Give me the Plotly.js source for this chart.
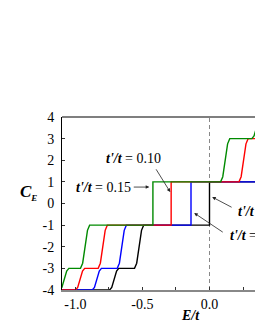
<!DOCTYPE html>
<html>
<head>
<meta charset="utf-8">
<script src="https://cdn.plot.ly/plotly-3.0.1.min.js"></script>
<style>html,body{margin:0;padding:0;overflow:hidden;background:#fff;}#chart{width:367px;height:330px;}</style>
</head>
<body>
<div id="chart"></div>
<script>
// t'/t = 0 (black)
const E_t000 = [-1.12,-0.745,-0.729,-0.711,-0.693,-0.677,-0.559,-0.543,-0.525,-0.507,-0.491,0,0,0.491,0.507,0.525,0.543,0.559,0.677,0.693,0.711,0.729,0.745,1.12];
const C_t000 = [-4,-4,-3.88,-3.5,-3.12,-3,-3,-2.76,-2,-1.24,-1,-1,1,1,1.24,2,2.76,3,3,3.12,3.5,3.88,4,4];
// t'/t = 0.05 (blue)
const E_t005 = [-1.12,-0.874,-0.858,-0.840,-0.822,-0.806,-0.688,-0.672,-0.654,-0.636,-0.620,-0.138,-0.138,0.362,0.378,0.396,0.414,0.430,0.548,0.564,0.582,0.600,0.616,1.12];
const C_t005 = [-4,-4,-3.88,-3.5,-3.12,-3,-3,-2.76,-2,-1.24,-1,-1,1,1,1.24,2,2.76,3,3,3.12,3.5,3.88,4,4];
// t'/t = 0.10 (red)
const E_t010 = [-1.12,-0.999,-0.983,-0.965,-0.947,-0.931,-0.830,-0.814,-0.796,-0.778,-0.762,-0.286,-0.286,0.220,0.236,0.254,0.272,0.288,0.421,0.437,0.455,0.473,0.489,1.12];
const C_t010 = [-4,-4,-3.88,-3.5,-3.12,-3,-3,-2.76,-2,-1.24,-1,-1,1,1,1.24,2,2.76,3,3,3.12,3.5,3.88,4,4];
// t'/t = 0.15 (green)
const E_t015 = [-1.12,-1.117,-1.101,-1.083,-1.065,-1.049,-0.962,-0.946,-0.928,-0.910,-0.894,-0.422,-0.422,0.083,0.099,0.117,0.135,0.151,0.316,0.332,0.350,0.368,0.384,1.12];
const C_t015 = [-4,-4,-3.88,-3.5,-3.12,-3,-3,-2.76,-2,-1.24,-1,-1,1,1,1.24,2,2.76,3,3,3.12,3.5,3.88,4,4];

const xTickVals = [-1,-0.5,0];
const xTickText = ['-1.0','-0.5','0.0'];
const xMinorVals = [-0.75,-0.25,0.25,0.75];
const yTickVals = [4,3,2,1,0,-1,-2,-3,-4];
const yTickText = ['4','3','2','1','0','-1','-2','-3','-4'];

const series = [
  {x:E_t000, y:C_t000, color:'#000000', name:"t'/t = 0"},
  {x:E_t005, y:C_t005, color:'#0000ff', name:"t'/t = 0.05"},
  {x:E_t010, y:C_t010, color:'#ff0000', name:"t'/t = 0.10"},
  {x:E_t015, y:C_t015, color:'#008a00', name:"t'/t = 0.15"}
];
const traces = series.map(s => ({
  x:s.x, y:s.y, type:'scatter', mode:'lines', name:s.name,
  line:{color:s.color, width:1.4}, showlegend:false, hoverinfo:'skip'
}));

const FAM = 'Liberation Serif';
const F = {family:FAM, size:14, color:'#000'};
const FA = {family:FAM, size:14, color:'#000'};
const lab = (txt, x, y, xa) => ({text:txt, x:x, y:y, xref:'x', yref:'y', showarrow:false, xanchor:xa, yanchor:'middle', font:FA});
const arr = (x, y, ax, ay) => ({text:'', x:x, y:y, ax:ax, ay:ay, xref:'x', yref:'y', axref:'x', ayref:'y', showarrow:true, arrowhead:2, arrowsize:0.9, arrowwidth:0.8, arrowcolor:'#222', standoff:0, startstandoff:0});

const layout = {
  width:367, height:330,
  margin:{l:62, r:10, t:117, b:40},
  paper_bgcolor:'#fff', plot_bgcolor:'#fff',
  font:{family:FAM, size:14, color:'#000'},
  xaxis:{range:[-1.1,1.1], tickmode:'array', tickvals:xTickVals, ticktext:xTickText,
    ticks:'inside', ticklen:3, tickcolor:'#333', showgrid:false, zeroline:false,
    minor:{tickmode:'array', tickvals:xMinorVals, ticks:'inside', ticklen:3, tickcolor:'#333', showgrid:false},
    showline:true, linecolor:'#888', linewidth:2, tickfont:F, ticklabelstandoff:0},
  yaxis:{range:[-4,4], tickmode:'array', tickvals:yTickVals, ticktext:yTickText,
    ticks:'inside', ticklen:3, tickcolor:'#333', showgrid:false, zeroline:false,
    showline:true, linecolor:'#000', linewidth:1, tickfont:F, ticklabelstandoff:4},
  shapes:[
    {type:'line', xref:'x', yref:'paper', x0:0, x1:0, y0:0, y1:1, layer:'below', line:{color:'#888', width:1, dash:'4px,3px'}},
    {type:'line', xref:'paper', yref:'paper', x0:0, x1:1, y0:1, y1:1, line:{color:'#000', width:1.2}}
  ],
  annotations:[
    lab("<b><i>t'/t</i></b> = 0.10", -0.566, 2.10, 'center'),
    lab("<b><i>t'/t</i></b> = 0.15", -0.79, 0.75, 'center'),
    lab("<b><i>t'/t</i></b> = 0.05", 0.14, -1.46, 'left'),
    lab("<b><i>t'/t</i></b> = 0", 0.197, -0.35, 'left'),
    arr(-0.293, 0.53, -0.405, 1.65),
    arr(-0.449, 0.76, -0.576, 0.76),
    arr(-0.114, -0.44, 0.11, -1.37),
    arr(0.02, 0.3, 0.176, -0.21),
    {text:'<b><i>C</i></b><sub><b><i><span style="font-size:9px">E</span></i></b></sub>', x:-0.112, y:0.566, xref:'paper', yref:'paper', xanchor:'center', yanchor:'middle', showarrow:false, font:{family:FAM, size:17, color:'#000'}},
    {text:'<b><i>E/t</i></b>', x:0.437, y:-0.150, xref:'paper', yref:'paper', xanchor:'center', yanchor:'middle', showarrow:false, font:{family:FAM, size:14, color:'#000'}}
  ]
};

Plotly.newPlot('chart', traces, layout, {staticPlot:true, displayModeBar:false});
</script>
</body>
</html>
